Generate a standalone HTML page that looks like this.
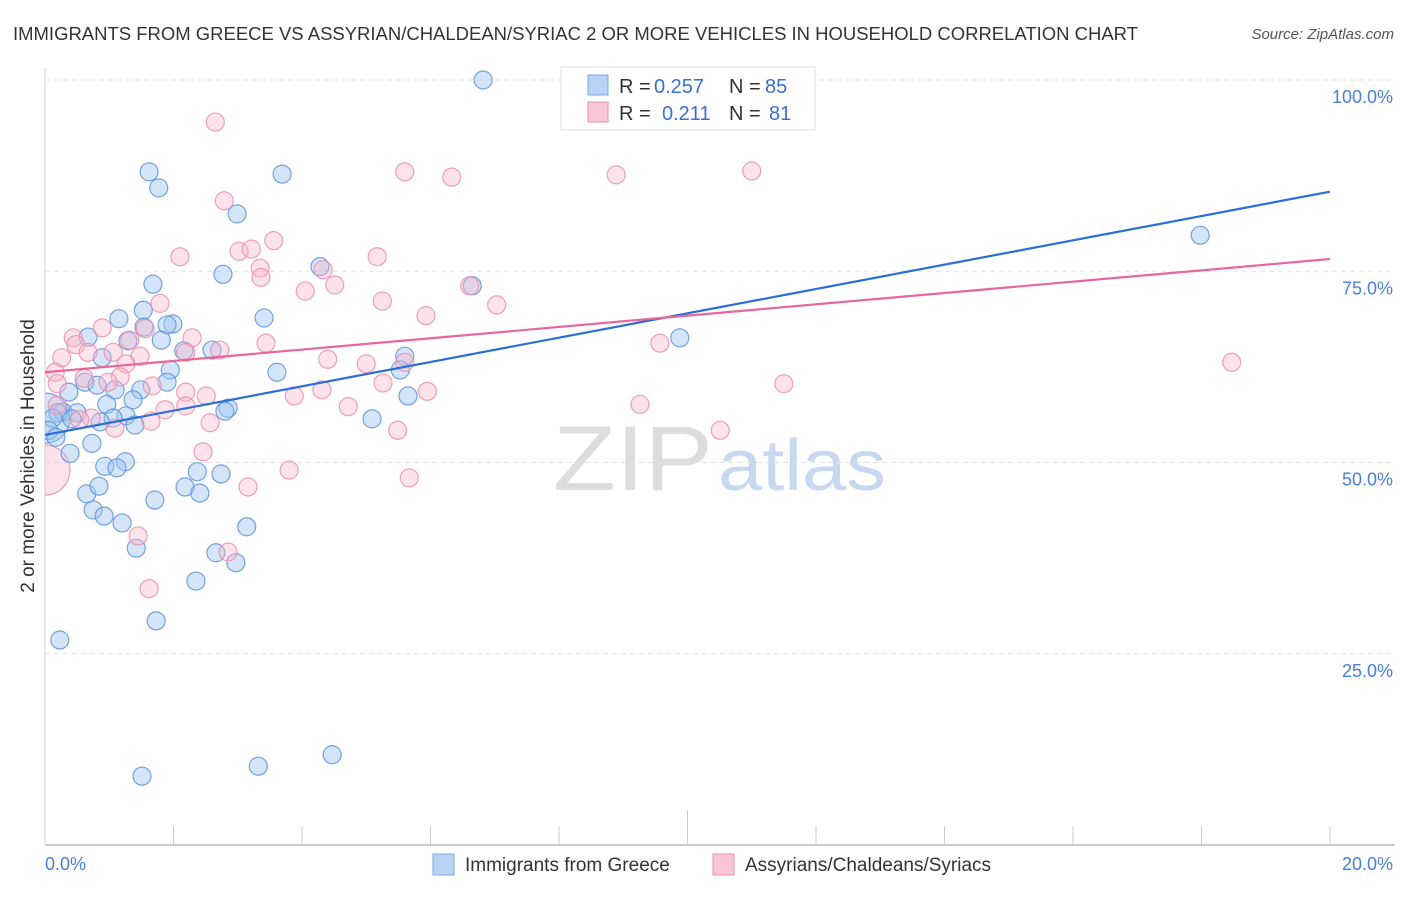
<!DOCTYPE html>
<html><head><meta charset="utf-8"><style>
body{margin:0;background:#fff;font-family:"Liberation Sans",sans-serif}
svg text{font-family:"Liberation Sans",sans-serif}
</style></head><body>
<svg id="chart" width="1406" height="892" xmlns="http://www.w3.org/2000/svg">
<defs><clipPath id="plotclip"><rect x="45" y="60" width="1360" height="785"/></clipPath></defs>
<text x="13" y="40" font-size="18" fill="#333" textLength="1125" lengthAdjust="spacingAndGlyphs">IMMIGRANTS FROM GREECE VS ASSYRIAN/CHALDEAN/SYRIAC 2 OR MORE VEHICLES IN HOUSEHOLD CORRELATION CHART</text>
<text x="1394" y="39" font-size="15" fill="#555" font-style="italic" text-anchor="end">Source: ZipAtlas.com</text>
<text transform="translate(34,456) rotate(-90)" font-size="19" fill="#333" text-anchor="middle">2 or more Vehicles in Household</text>
<g>
<text x="553" y="490" font-size="92" fill="#ddd" font-family="Liberation Serif" textLength="160" lengthAdjust="spacingAndGlyphs">ZIP</text>
<text x="718" y="490" font-size="72" fill="#c6d9f1" textLength="168" lengthAdjust="spacingAndGlyphs">atlas</text>
</g>
<g id="grid"></g>
<g id="axes"></g>
<g id="pts" clip-path="url(#plotclip)"></g>
<g id="lines"></g>
<g>
<rect x="561" y="67" width="254" height="63" fill="#fff" stroke="#ddd"/>
<rect x="588" y="75" width="20" height="20" fill="#b8d3f5" stroke="#7fa9e3"/>
<text x="619" y="93" font-size="20" fill="#333">R =</text>
<text x="654" y="93" font-size="20" fill="#3a6fd0">0.257</text>
<text x="729" y="93" font-size="20" fill="#333">N =</text>
<text x="765" y="93" font-size="20" fill="#3a6fd0">85</text>
<rect x="588" y="102" width="20" height="20" fill="#f9c6d5" stroke="#e990ad"/>
<text x="619" y="120" font-size="20" fill="#333">R =</text>
<text x="662" y="120" font-size="20" fill="#3a6fd0">0.211</text>
<text x="729" y="120" font-size="20" fill="#333">N =</text>
<text x="769" y="120" font-size="20" fill="#3a6fd0">81</text>
</g>
<g>
<rect x="433" y="854" width="21" height="21" fill="#b8d3f5" stroke="#7fa9e3"/>
<text x="465" y="871" font-size="19" fill="#333">Immigrants from Greece</text>
<rect x="713" y="854" width="21" height="21" fill="#f9c6d5" stroke="#e990ad"/>
<text x="745" y="871" font-size="19" fill="#333">Assyrians/Chaldeans/Syriacs</text>
</g>
</svg>
<script>
const yTicks=[25,50,75,100];
const yTickLabels=["25.0%","50.0%","75.0%","100.0%"];
const xTickLabels=["0.0%","20.0%"];
const blueX=[6.82,1.62,1.77,3.69,2.99,17.98,2.77,4.28,1.68,6.65,1.53,1.15,1.99,1.90,3.41,1.54,0.67,1.81,1.29,2.60,2.16,5.60,0.89,1.95,5.53,3.61,9.88,1.90,0.62,0.81,0.37,1.09,1.49,5.65,1.37,0.96,2.85,2.80,0.28,0.50,0.20,1.26,0.12,1.06,0.86,1.40,0.42,5.09,0.06,0.17,0.73,0.39,0.93,1.25,1.12,2.37,2.74,2.18,0.65,0.84,2.41,1.71,0.75,0.92,1.20,3.14,2.66,1.42,2.97,2.35,0.23,1.73,3.32,4.47,1.51];
const blueY=[100.0,88.0,85.9,87.7,82.5,79.7,74.6,75.6,73.3,73.1,69.9,68.8,68.1,68.0,68.9,67.7,66.4,66.0,65.9,64.7,64.6,63.9,63.7,62.1,62.1,61.8,66.3,60.5,60.5,60.1,59.2,59.5,59.5,58.7,58.2,57.6,57.1,56.7,56.6,56.5,56.5,56.1,55.8,55.8,55.3,54.9,55.7,55.7,54.2,53.3,52.5,51.2,49.5,50.1,49.3,48.8,48.5,46.8,45.9,46.9,46.0,45.1,43.8,43.0,42.1,41.6,38.2,38.8,36.9,34.5,26.8,29.3,10.3,11.8,9.0];
const pinkX=[2.65,5.60,6.33,8.89,11.00,2.79,3.02,3.21,3.56,2.10,5.17,3.35,3.36,4.33,4.51,4.05,6.61,5.25,1.79,7.03,5.93,1.56,0.89,0.44,2.29,1.32,3.44,0.48,0.26,0.67,1.06,1.48,2.72,2.19,4.40,5.00,5.60,1.26,0.16,0.61,1.17,0.98,1.67,11.50,18.47,9.57,0.19,5.26,4.31,3.88,5.95,2.19,2.51,2.19,1.87,4.72,9.26,0.19,0.72,1.65,1.09,2.57,5.49,10.51,0.54,2.46,3.80,5.67,3.16,1.45,2.85,1.62];
const pinkY=[94.5,88.0,87.3,87.6,88.1,84.2,77.6,77.9,79.0,76.9,76.9,75.4,74.2,75.2,73.2,72.4,73.1,71.1,70.8,70.6,69.2,67.5,67.6,66.3,66.3,66.0,65.6,65.4,63.7,64.4,64.4,63.9,64.7,64.4,63.5,62.9,63.1,62.9,61.8,61.0,61.2,60.5,60.0,60.3,63.1,65.6,60.3,60.4,59.5,58.7,59.3,59.2,58.7,57.4,56.9,57.3,57.6,57.5,55.8,55.4,54.5,55.2,54.2,54.2,55.6,51.4,49.0,48.0,46.8,40.4,38.3,33.5];
const bigBlue=[0.0,55.8];
const bigPink=[0.0,49.0];
const blueTrend=[53.6,85.4];
const pinkTrend=[61.8,76.6];
const X=v=>45+v/20*1285;
const Y=v=>845-v/100*765;
const NS="http://www.w3.org/2000/svg";
function mk(tag,attrs,parent){const e=document.createElementNS(NS,tag);for(const k in attrs)e.setAttribute(k,attrs[k]);parent.appendChild(e);return e;}
const grid=document.getElementById('grid'),axes=document.getElementById('axes'),lines=document.getElementById('lines'),pts=document.getElementById('pts');
yTicks.forEach((t,i)=>{
  const l=mk('line',{x1:45,x2:1395,y1:Y(t),y2:Y(t),stroke:'#e3e3e3','stroke-dasharray':'5,4'},grid);
  
  
  const tx=mk('text',{x:1393,y:Y(t)+23,'font-size':18,fill:'#4a7fd6','text-anchor':'end'},axes);
  tx.textContent=yTickLabels[i];
  
  
});
const yax=mk('line',{x1:45,x2:45,y1:68,y2:845,stroke:'#ccc'},axes);


const xax=mk('line',{x1:45,x2:1395,y1:845,y2:845,stroke:'#bbb','stroke-width':1.5},axes);


for(let i=0;i<=10;i++){
  const tk=mk('line',{x1:X(i*2),x2:X(i*2),y1:i==5?810:826,y2:845,stroke:'#ccc'},axes);
  
  
}
const xl0=mk('text',{x:45,y:870,'font-size':18,fill:'#4a7fd6'},axes);xl0.textContent=xTickLabels[0];


const xl1=mk('text',{x:1393,y:870,'font-size':18,fill:'#4a7fd6','text-anchor':'end'},axes);xl1.textContent=xTickLabels[1];


function dot(x,y,r,c){
  const fill=c=='b'?'rgba(160,198,242,0.45)':'rgba(247,182,202,0.4)';
  const st=c=='b'?'#5e93dc':'#ea8fae';
  const e=mk('circle',{cx:X(x),cy:Y(y),r:r,fill:fill,stroke:st,'stroke-width':1.2,'stroke-opacity':0.85},pts);
  return e;
}
const bb=dot(bigBlue[0],bigBlue[1],25,'b');


const bp=dot(bigPink[0],bigPink[1],25,'p');


blueX.forEach((x,i)=>{const e=dot(x,blueY[i],9,'b');
  
  });
pinkX.forEach((x,i)=>{const e=dot(x,pinkY[i],9,'p');
  
  });
const bl=mk('line',{x1:X(0),x2:X(20),y1:Y(blueTrend[0]),y2:Y(blueTrend[1]),stroke:'#2a6fd6','stroke-width':2.2},lines);


const pl=mk('line',{x1:X(0),x2:X(20),y1:Y(pinkTrend[0]),y2:Y(pinkTrend[1]),stroke:'#e8679a','stroke-width':2.2},lines);


</script>
</body></html>
